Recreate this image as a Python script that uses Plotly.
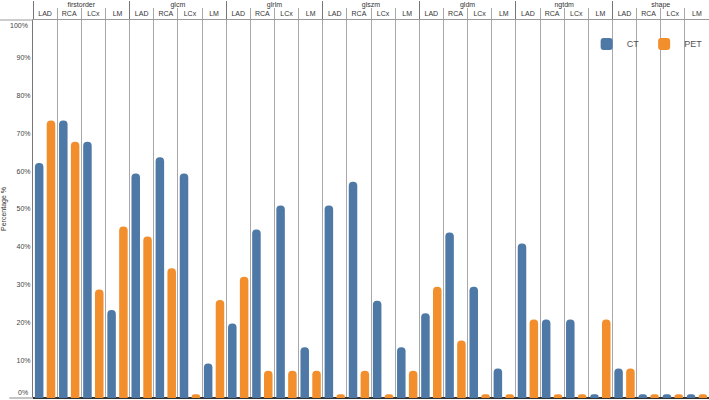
import plotly.graph_objects as go

groups = ["firstorder", "glcm", "glrlm", "glszm", "gldm", "ngtdm", "shape"]
subcats = ["LAD", "RCA", "LCx", "LM"]

ct_values = [62.2, 73.4, 67.8, 23.3,
             59.4, 63.7, 59.4, 9.1,
             19.7, 44.6, 50.9, 13.4,
             50.9, 57.2, 25.7, 13.4,
             22.4, 43.8, 29.4, 7.8,
             40.9, 20.8, 20.8, 1.0,
             7.8, 1.0, 1.0, 1.0]
pet_values = [73.4, 67.8, 28.7, 45.4,
              42.7, 34.3, 1.0, 25.9,
              32.1, 7.2, 7.2, 7.2,
              1.0, 7.2, 1.0, 7.2,
              29.4, 15.2, 1.0, 1.0,
              20.8, 1.0, 1.0, 20.8,
              7.8, 1.0, 1.0, 1.0]

y_ticks = [10, 20, 30, 40, 50, 60, 70, 80, 90]
y_edge_ticks = [0, 100]

x_multi = [[g for g in groups for s in subcats], [s for g in groups for s in subcats]]

FONT = "Liberation Sans"
fig = go.Figure()
fig.add_trace(go.Bar(x=x_multi, y=ct_values, name="CT",
                     marker=dict(color="#4e79a7", cornerradius="50%", line=dict(width=0))))
fig.add_trace(go.Bar(x=x_multi, y=pet_values, name="PET",
                     marker=dict(color="#f28e2b", cornerradius="50%", line=dict(width=0))))

tick_font = dict(family=FONT, size=7, color="#444444")
fig.update_layout(
    width=709, height=400,
    margin=dict(l=33, r=0, t=20, b=2),
    paper_bgcolor="white", plot_bgcolor="white",
    barmode="group", bargap=0.02, bargroupgap=0.28,
    font=dict(family=FONT, size=7, color="#333333"),
    legend=dict(orientation="h", x=0.998, y=0.975, xanchor="right", yanchor="top",
                font=dict(size=9, color="#555555"), bgcolor="rgba(0,0,0,0)",
                itemwidth=30, tracegroupgap=0),
    xaxis=dict(type="multicategory", side="top", showgrid=True, gridcolor="#a8a8a8",
               gridwidth=1, ticks="outside", ticklen=11, tickcolor="#a8a8a8",
               showline=True, linecolor="#9a9a9a", linewidth=1,
               showdividers=True, dividercolor="#777777", dividerwidth=1,
               tickfont=dict(size=7, color="#333333")),
    yaxis=dict(range=[0, 100], tickvals=y_ticks, ticktext=[f"{v}%" for v in y_ticks],
               showgrid=False, zeroline=True, zerolinecolor="#333333", zerolinewidth=1.5,
               showline=True, linecolor="#777777", linewidth=1, ticks="",
               tickfont=tick_font,
               title=dict(text="Percentage %", font=dict(size=7, color="#333333"), standoff=10)),
)

# 0% and 100% labels sit just inside the axis ends, as in the reference
for v in y_edge_ticks:
    fig.add_annotation(x=0, xref="paper", xanchor="right", xshift=-3,
                       y=v, yref="y", yanchor="bottom" if v == 0 else "top",
                       text=f"{v}%", showarrow=False, font=tick_font)

# header rule and base rule continue into the left margin
fig.add_shape(type="line", xref="paper", yref="paper", x0=-0.05, x1=0, y0=1, y1=1,
              line=dict(color="#9a9a9a", width=1), layer="above")
fig.add_shape(type="line", xref="paper", yref="paper", x0=-0.035, x1=0, y0=0, y1=0,
              line=dict(color="#b0b0b0", width=1.5), layer="above")

fig.write_html("out.html", post_script="document.body.style.margin='0';",
               config={"displayModeBar": False})
